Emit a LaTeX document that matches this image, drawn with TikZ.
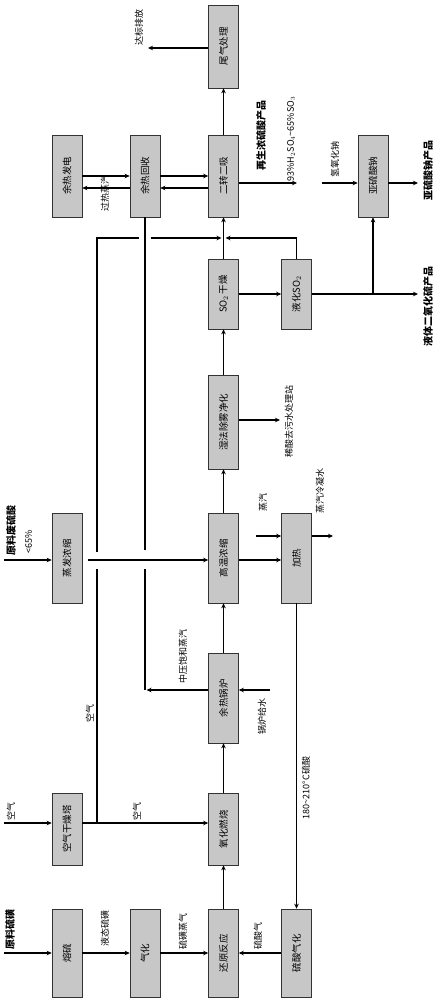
\documentclass[tikz,border=0pt]{standalone}
\usepackage{fontspec}
\setmainfont{Noto Sans CJK SC}
\usetikzlibrary{arrows.meta}
\begin{document}
\begin{tikzpicture}[x=1pt,y=-1pt,
  pbox/.style={draw=black!80, line width=0.6pt, fill=black!22, minimum width=30pt, inner sep=0pt, font=\fontsize{9.5}{10}\selectfont},
  conn/.style={line width=1.1pt, -{Stealth[length=5pt,width=4.5pt]}},
  ln/.style={line width=1.1pt},
  lab/.style={rotate=90, inner sep=0pt, font=\fontsize{9}{10}\selectfont},
  blab/.style={rotate=90, inner sep=0pt, font=\fontsize{10}{11}\bfseries\selectfont}
]
\useasboundingbox (0,0) rectangle (438,1000);
% boxes
\node[pbox,minimum height=88pt] (A1) at (67,953) {\rotatebox{90}{熔硫}};
\node[pbox,minimum height=88pt] (B1) at (145,953) {\rotatebox{90}{气化}};
\node[pbox,minimum height=88pt] (C1) at (223.5,953) {\rotatebox{90}{还原反应}};
\node[pbox,minimum height=88pt] (D1) at (296.5,953) {\rotatebox{90}{硫酸气化}};
\node[pbox,minimum height=72pt] (A2) at (67,829) {\rotatebox{90}{空气干燥塔}};
\node[pbox,minimum height=72pt] (C2) at (223.5,829) {\rotatebox{90}{氧化燃烧}};
\node[pbox,minimum height=90pt] (C3) at (223.5,698) {\rotatebox{90}{余热锅炉}};
\node[pbox,minimum height=90pt] (A3) at (67,558) {\rotatebox{90}{蒸发浓缩}};
\node[pbox,minimum height=90pt] (C4) at (223.5,558) {\rotatebox{90}{高温浓缩}};
\node[pbox,minimum height=90pt] (D2) at (296.5,558) {\rotatebox{90}{加热}};
\node[pbox,minimum height=94pt] (C5) at (223.5,422) {\rotatebox{90}{湿法除雾净化}};
\node[pbox,minimum height=70pt] (C6) at (223.5,294) {\rotatebox{90}{SO$_2$\,干燥}};
\node[pbox,minimum height=70pt] (E2) at (296.5,294) {\rotatebox{90}{液化SO$_2$}};
\node[pbox,minimum height=82pt] (A4) at (67,176) {\rotatebox{90}{余热发电}};
\node[pbox,minimum height=82pt] (B2) at (145,176) {\rotatebox{90}{余热回收}};
\node[pbox,minimum height=82pt] (C7) at (223.5,176) {\rotatebox{90}{二转二吸}};
\node[pbox,minimum height=82pt] (E1) at (373,176) {\rotatebox{90}{亚硫酸钠}};
\node[pbox,minimum height=83pt] (C8) at (223.5,46.5) {\rotatebox{90}{尾气处理}};
% coordinates
\coordinate (in1) at (4,953);
\coordinate (in2) at (4,823);
\coordinate (in3) at (4,560);
\coordinate (jA) at (97,823);
\coordinate (gA1) at (97,569);
\coordinate (gA2) at (97,552);
\coordinate (tA) at (97,238);
\coordinate (bA1) at (139,238);
\coordinate (bA2) at (151,238);
\coordinate (cjL) at (221.5,238);
\coordinate (cjR) at (225.5,238);
\coordinate (eT) at (296.5,238);
\coordinate (bw) at (270,690);
\coordinate (sw) at (146.5,690);
\coordinate (gB1) at (145,569);
\coordinate (gB2) at (145,550);
\coordinate (bv) at (145,690);
\coordinate (a3s) at (88,560);
\coordinate (st) at (256,536);
\coordinate (cd) at (333,536);
\coordinate (ww) at (280,420);
\coordinate (so2o) at (418,294);
\coordinate (br) at (373,294);
\coordinate (naoh) at (322,183);
\coordinate (nso) at (418,183);
\coordinate (acid) at (297,183);
\coordinate (tail) at (148,48);
\coordinate (y176) at (0,176);
\coordinate (y188) at (0,188);
% main chain
\draw[conn] (in1) -- (A1.west |- in1);
\draw[conn] (A1) -- (B1);
\draw[conn] (B1) -- (C1);
\draw[conn] (D1) -- (C1);
\draw[conn] (C1) -- (C2);
\draw[conn] (in2) -- (A2.west |- in2);
\draw[conn] (A2.east |- in2) -- (C2.west |- in2);
\draw[ln] (jA) -- (gA1);
\draw[ln] (gA2) -- (tA) -- (bA1);
\draw[conn] (bA2) -- (cjL);
\draw[conn] (C2) -- (C3);
\draw[conn] (bw) -- (bw -| C3.east);
\draw[conn] (C3.west |- bw) -- (sw);
\draw[ln] (bv) -- (gB1);
\draw[ln] (gB2) -- (B2.south);
\draw[conn] (C3) -- (C4);
\draw[conn] (in3) -- (A3.west |- in3);
\draw[conn] (a3s) -- (C4.west |- in3);
\draw[conn] (C4.east |- in3) -- (D2.west |- in3);
\draw[conn] (st) -- (D2.west |- st);
\draw[conn] (D2.east |- st) -- (cd);
\draw[conn] (D2) -- (D1);
\draw[conn] (C4) -- (C5);
\draw[conn] (C5.east |- ww) -- (ww);
\draw[conn] (C5) -- (C6);
\draw[conn] (C6) -- (E2);
\draw[conn] (E2) -- (so2o);
\draw[conn] (br) -- (E1.south);
\draw[conn] (E2.north) -- (eT) -- (cjR);
\draw[conn] (C6) -- (C7);
\draw[conn] (naoh) -- (E1.west |- naoh);
\draw[conn] (E1.east |- nso) -- (nso);
\draw[conn] (C7.east |- acid) -- (acid);
\draw[conn] (C7) -- (C8);
\draw[conn] (C8.west |- tail) -- (tail);
\draw[conn] (B2.east |- y176) -- (C7.west |- y176);
\draw[conn] (C7.west |- y188) -- (B2.east |- y188);
\draw[conn] (A4.east |- y176) -- (B2.west |- y176);
\draw[conn] (B2.west |- y188) -- (A4.east |- y188);
% labels
\node[blab] (l1) at (10,929) {原料硫磺};
\node[lab] (l2) at (105,928) {液态硫磺};
\node[lab] (l3) at (183,931) {硫磺蒸气};
\node[lab] (l4) at (258,936) {硫酸气};
\node[lab] (l5) at (11,811) {空气};
\node[lab] (l6) at (137,811) {空气};
\node[lab] (l7) at (90,713) {空气};
\node[lab] (l8) at (262,716) {锅炉给水};
\node[lab] (l9) at (183,656) {中压饱和蒸汽};
\node[blab] (l10) at (11,530) {原料废硫酸};
\node[lab] (l11) at (28.5,542) {<65\%};
\node[lab] (l12) at (263,502) {蒸汽};
\node[lab] (l13) at (320,491) {蒸汽冷凝水};
\node[lab] (l14) at (306,788) {180\textasciitilde210°C硫酸};
\node[lab] (l15) at (289,421) {稀酸去污水处理站};
\node[blab] (l16) at (428,306) {液体二氧化硫产品};
\node[lab] (l17) at (291,139) {93\%H$_2$SO$_4$\textasciitilde65\%SO$_3$};
\node[blab] (l18) at (261,136) {再生浓硫酸产品};
\node[lab] (l19) at (335,160) {氢氧化钠};
\node[blab] (l20) at (428,171) {亚硫酸钠产品};
\node[lab] (l21) at (139,28) {达标排放};
\node[lab] (l22) at (105,194) {过热蒸汽};
\end{tikzpicture}
\end{document}
